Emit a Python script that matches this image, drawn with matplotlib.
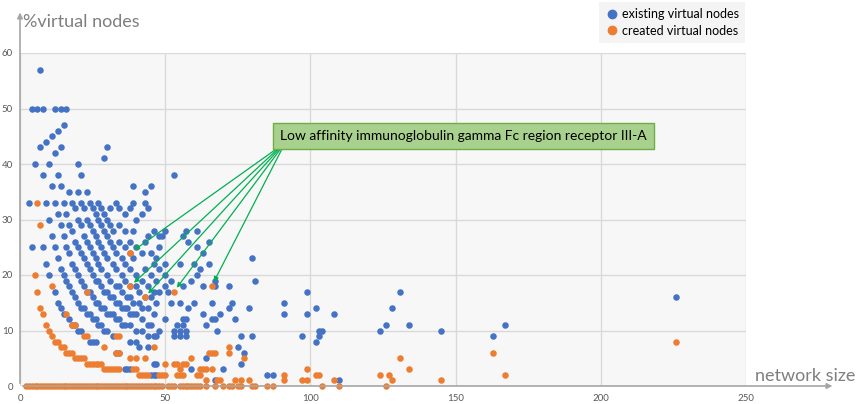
import matplotlib
matplotlib.use("Agg")
import matplotlib.pyplot as plt
from matplotlib.lines import Line2D

# ==========================================
# Data (network size, %virtual nodes)
# ==========================================
existing = [
    (7, 57), (4, 50), (6, 50), (8, 50), (12, 50), (14, 50), (16, 50), (15, 47), (13, 46),
    (11, 45), (9, 44), (7, 43), (14, 43), (30, 43), (12, 42), (29, 41), (5, 40), (10, 40),
    (20, 40), (8, 38), (13, 38), (21, 38), (53, 38), (11, 36), (14, 36), (39, 36), (45, 36),
    (17, 35), (20, 35), (23, 35), (43, 35),
    (3, 33), (9, 33), (12, 33), (15, 33), (18, 33), (21, 33), (24, 33), (27, 33), (33, 33),
    (39, 33), (43, 33),
    (4, 25), (8, 25), (9, 22), (10, 20), (12, 17), (13, 15), (14, 14), (15, 13), (17, 12),
    (18, 11), (19, 11), (20, 10), (21, 10), (24, 8), (25, 8), (26, 8), (33, 6), (34, 6),
    (36, 3), (37, 3), (38, 3), (45, 2), (46, 2), (47, 2), (46, 4), (47, 4),
    (10, 30), (11, 27), (12, 25), (13, 23), (14, 21), (15, 20), (16, 19), (17, 18), (18, 17),
    (19, 16), (20, 15), (21, 14), (22, 14), (23, 13), (24, 13), (25, 12), (26, 12), (27, 11),
    (28, 11), (29, 10), (30, 10), (32, 9), (38, 8), (40, 8), (41, 7), (44, 7),
    (13, 31), (14, 29), (15, 27), (16, 25), (17, 24), (18, 22), (19, 21), (20, 20), (21, 19),
    (22, 18), (23, 17), (24, 17), (25, 16), (26, 15), (27, 15), (28, 14), (29, 14), (30, 13),
    (31, 13), (32, 13), (33, 12), (34, 12), (35, 11), (36, 11), (38, 11), (40, 10), (42, 10),
    (44, 9), (46, 9), (47, 9),
    (16, 31), (17, 29), (18, 28), (19, 26), (20, 25), (21, 24), (22, 23), (23, 22), (24, 21),
    (25, 20), (26, 19), (27, 19), (28, 18), (29, 17), (30, 17), (31, 16), (32, 16), (33, 15),
    (34, 15), (35, 14), (36, 14), (37, 14), (38, 13), (39, 13), (40, 13), (42, 12), (44, 11),
    (45, 11), (48, 10),
    (19, 32), (20, 30), (21, 29), (22, 27), (23, 26), (24, 25), (25, 24), (26, 23), (27, 22),
    (28, 21), (30, 20), (31, 19), (33, 18), (34, 18), (35, 17),
    (37, 16), (38, 16), (39, 15), (41, 15), (42, 14), (44, 14), (46, 13),
    (22, 32), (23, 30), (24, 29), (25, 28), (26, 27), (27, 26), (28, 25), (29, 24), (30, 23),
    (32, 22), (33, 21), (35, 20), (36, 19), (38, 18), (40, 18),
    (41, 17), (43, 16), (45, 16), (47, 15),
    (25, 32), (26, 31), (27, 30), (28, 29), (29, 28), (30, 27), (31, 26), (32, 25), (33, 24),
    (35, 23), (36, 22), (38, 21), (40, 20), (42, 19), (44, 18),
    (46, 17), (48, 17),
    (28, 32), (29, 31), (30, 30), (31, 29), (32, 28), (34, 26), (36, 25),
    (38, 24), (39, 23), (43, 21), (45, 20), (47, 19), (50, 18),
    (31, 32), (34, 29), (36, 28), (38, 26), (40, 25), (42, 24),
    (46, 22), (48, 21), (50, 20), (52, 19),
    (34, 32), (36, 31), (39, 28), (43, 26), (45, 24), (47, 23),
    (50, 22),
    (38, 32), (40, 30), (44, 27), (48, 25), (42, 31), (48, 27),
    (44, 32), (50, 28), (46, 28),
    (49, 27), (57, 28), (61, 28), (56, 27), (58, 26), (65, 26), (61, 25), (63, 24), (55, 22),
    (60, 22), (65, 22), (62, 21), (61, 20), (59, 19), (67, 19), (56, 18), (63, 18), (67, 18),
    (72, 18), (51, 17), (52, 15), (55, 15), (60, 15), (66, 15), (73, 15), (58, 14), (72, 14),
    (79, 14), (63, 13), (69, 13), (50, 12), (56, 12), (57, 12), (66, 12), (67, 12), (74, 12),
    (54, 11), (56, 11), (64, 11), (68, 10), (53, 10), (55, 10), (57, 10), (53, 9), (55, 9),
    (57, 9), (76, 9), (80, 9), (75, 7), (77, 6), (76, 4), (64, 5), (59, 3), (70, 3), (67, 1),
    (80, 23), (81, 19), (85, 2), (87, 2),
    (91, 15), (91, 13), (99, 17), (99, 13), (102, 14), (108, 13), (97, 9), (103, 10), (104, 10),
    (103, 9), (102, 8), (110, 1), (124, 10), (126, 11), (128, 14), (131, 17), (134, 11),
    (145, 10), (163, 9), (167, 11), (226, 16),
]

# network sizes where no virtual node was created (0 %)
created_zero = [
    2, 3, 4, 5, 6, 7, 8, 9, 10, 11, 12, 13, 14, 15, 16, 17, 18, 19, 20, 21, 22, 23, 24, 25,
    26, 27, 28, 29, 30, 31, 32, 33, 34, 35, 36, 37, 38, 39, 40, 41, 42, 43, 44, 45, 46, 47,
    48, 49, 51, 52, 53, 55, 56, 57, 58, 59, 60, 61, 62, 64, 67, 70, 72, 73, 75, 76, 80, 81,
    85, 87, 104, 110, 126,
]

created = [
    (6, 33), (7, 29), (5, 20), (6, 17), (11, 18), (23, 17), (38, 24), (38, 18), (43, 16),
    (53, 17), (66, 18),
    (7, 14), (8, 13), (9, 11), (10, 10), (11, 9), (12, 8), (13, 8), (14, 7), (15, 7), (16, 6),
    (17, 6), (18, 6), (19, 5), (20, 5), (21, 5), (22, 5), (23, 4), (24, 4), (25, 4), (26, 4),
    (27, 4), (28, 4), (29, 3), (30, 3), (31, 3), (32, 3), (33, 3), (34, 3), (39, 3), (40, 3),
    (41, 2), (42, 2), (43, 2), (44, 2), (48, 2), (49, 2), (50, 2), (54, 2), (55, 2), (56, 2),
    (61, 2), (62, 2), (64, 1), (68, 1), (69, 1), (74, 1), (76, 1), (79, 1), (91, 1), (97, 1),
    (99, 1), (108, 1), (128, 1), (145, 1),
    (16, 13), (18, 11), (19, 11), (22, 9), (23, 9), (29, 7), (33, 6), (34, 6), (38, 5), (40, 5),
    (50, 4), (53, 4), (54, 4), (56, 4), (57, 4), (55, 3), (62, 3), (63, 3), (64, 3), (66, 3),
    (33, 9), (34, 9), (46, 7), (43, 5), (59, 5), (65, 6), (66, 6), (67, 6), (72, 7), (72, 6),
    (77, 5), (99, 3), (91, 2), (102, 2), (103, 2), (124, 2), (127, 2), (134, 3), (131, 5),
    (163, 6), (167, 2), (226, 8),
]

# points of the protein marked by the green label
marked = [(38, 24), (38, 18), (43, 16), (53, 17), (66, 18)]

label_text = "Low affinity immunoglobulin gamma Fc region receptor III-A"

blue = "#4472c4"
orange = "#ed7d31"
grey = "#7f7f7f"

plt.rcParams['font.family'] = ['Lato', 'DejaVu Sans']

# ==========================================
# Figure
# ==========================================
fig = plt.figure(figsize=(8.58, 4.04), dpi=100)
ax = fig.add_axes([20 / 858, 18 / 404, 726 / 858, 333 / 404])
ax.set_facecolor("#f7f7f7")

ex_x = [p[0] for p in existing]
ex_y = [p[1] for p in existing]
cr_x = [p[0] for p in created] + created_zero
cr_y = [p[1] for p in created] + [0] * len(created_zero)

ax.scatter(ex_x, ex_y, s=22, color=blue, linewidths=0, zorder=3, clip_on=False)
ax.scatter(cr_x, cr_y, s=22, color=orange, linewidths=0, zorder=3, clip_on=False)

ax.set_xlim(0, 250)
ax.set_ylim(0, 60)
ax.set_xticks(range(0, 251, 50))
ax.set_yticks(range(0, 61, 10))
ax.grid(color="#d9d9d9", linewidth=1)
ax.set_axisbelow(True)
for s in ax.spines.values():
    s.set_visible(False)
ax.tick_params(length=0, labelsize=7, colors="#595959")
ax.tick_params(axis="y", pad=5)
ax.tick_params(axis="x", pad=6)

# axis arrows
arrow_kw = dict(arrowstyle="-|>", color="#a6a6a6", lw=1.2, mutation_scale=8)
ax.annotate("", xy=(1.123, 0), xytext=(0, 0), xycoords="axes fraction",
            arrowprops=arrow_kw, annotation_clip=False)
ax.annotate("", xy=(0, 1.13), xytext=(0, 0), xycoords="axes fraction",
            arrowprops=arrow_kw, annotation_clip=False)

fig.text(23 / 858, 1 - 22 / 404, "%virtual nodes", fontsize=13, color=grey,
         ha="left", va="center")
fig.text(855 / 858, 1 - 376 / 404, "network size", fontsize=13, color=grey,
         ha="right", va="center")

# legend
handles = [
    Line2D([], [], marker="o", linestyle="", color=blue, markersize=6, label="existing virtual nodes"),
    Line2D([], [], marker="o", linestyle="", color=orange, markersize=6, label="created virtual nodes"),
]
leg = fig.legend(handles=handles, loc="upper right", bbox_to_anchor=(745 / 858, 1 - 2 / 404),
                 fontsize=9, frameon=True, fancybox=False, borderaxespad=0,
                 handletextpad=0.3, handlelength=1.0, borderpad=0.5, labelspacing=0.35)
leg.get_frame().set_facecolor("#f2f2f2")
leg.get_frame().set_edgecolor("none")

# green label with arrows
ax.text(152.8, 45.1, label_text, fontsize=10, color="black", ha="center", va="center",
        bbox=dict(boxstyle="square,pad=0.5", fc="#a9d18e", ec="#70ad47", lw=1), zorder=5)
for i, (mx, my) in enumerate(marked):
    ax.annotate("", xy=(mx, my), xytext=(88.8 + 0.4 * i, 42.9),
                arrowprops=dict(arrowstyle="-|>", color="#00b050", lw=0.9,
                                mutation_scale=7, shrinkA=0, shrinkB=3.5), zorder=4)

fig.savefig("out.png", dpi=100)
